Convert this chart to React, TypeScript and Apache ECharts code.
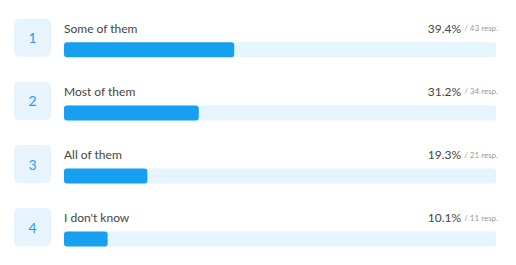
import React, { useEffect, useRef } from "react";
import * as echarts from "echarts";

const categories = ["Some of them", "Most of them", "All of them", "I don't know"];
const percents = [39.4, 31.2, 19.3, 10.1];
const responses = [43, 34, 21, 11];
const trackMax = 100;

const FONT = "Lato";

export default function App() {
  const ref = useRef<HTMLDivElement>(null);
  useEffect(() => {
    if (!ref.current) return;
    const chart = echarts.init(ref.current, undefined, { renderer: "svg" });
    chart.setOption({
      animation: false,
      textStyle: { fontFamily: FONT },
      grid: { left: 64, right: 20, top: 18.25, height: 252.4 },
      xAxis: {
        type: "value",
        min: 0,
        max: trackMax,
        show: false,
      },
      yAxis: {
        type: "category",
        data: categories,
        inverse: true,
        axisLine: { show: false },
        axisTick: { show: false },
        splitLine: { show: false },
        axisLabel: {
          interval: 0,
          hideOverlap: false,
          showMinLabel: true,
          showMaxLabel: true,
          margin: 13,
          formatter: (_v: string, i: number) => `{b|${i + 1}}\n{s| }`,
          rich: {
            b: {
              width: 37,
              height: 38,
              lineHeight: 38,
              align: "center",
              verticalAlign: "middle",
              backgroundColor: "#e8f4fd",
              borderRadius: 5,
              color: "#2c9af0",
              fontSize: 14,
              fontFamily: FONT,
            },
            s: { height: 24, lineHeight: 24, fontSize: 8 },
          },
        },
      },
      series: [
        {
          type: "bar",
          data: categories.map(() => trackMax),
          barWidth: 15,
          barGap: "-100%",
          silent: true,
          itemStyle: { color: "#e6f4fd", borderRadius: 3 },
          label: {
            show: true,
            position: ["100%", -14],
            offset: [2, 0],
            align: "right",
            verticalAlign: "middle",
            formatter: (p: any) =>
              `{p|${percents[p.dataIndex].toFixed(1)}%} {r|/ ${responses[p.dataIndex]} resp.}`,
            rich: {
              p: { fontSize: 12, color: "#444", fontFamily: FONT },
              r: { fontSize: 8, color: "#999", fontFamily: FONT },
            },
          },
          z: 1,
        },
        {
          type: "bar",
          data: percents,
          barWidth: 15,
          silent: true,
          itemStyle: { color: "#18a0f0", borderRadius: 3 },
          label: {
            show: true,
            position: [0, -14],
            align: "left",
            verticalAlign: "middle",
            formatter: (p: any) => categories[p.dataIndex],
            fontSize: 12,
            color: "#444",
            fontFamily: FONT,
          },
          z: 2,
        },
      ],
    });
    return () => chart.dispose();
  }, []);
  return (
    <div
      ref={ref}
      style={{ position: "fixed", left: 0, top: 0, width: 516, height: 290, background: "#fff" }}
    />
  );
}
